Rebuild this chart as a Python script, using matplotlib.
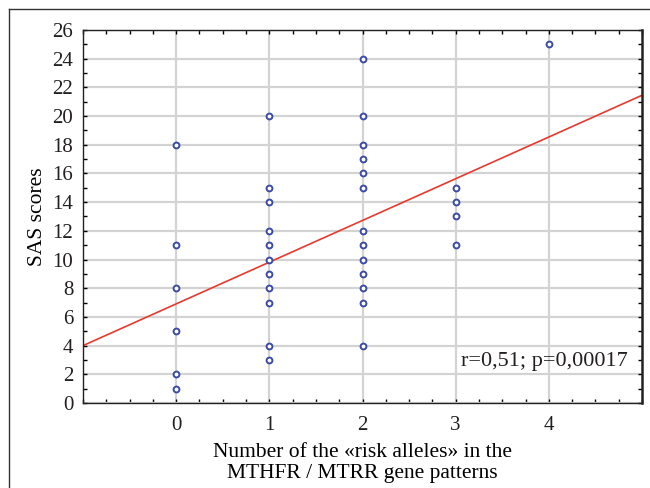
import matplotlib.pyplot as plt
from matplotlib.lines import Line2D
from matplotlib.ticker import MultipleLocator


# Number of risk alleles for each subject, with the SAS score.
RISK_ALLELES = [0] * 6 + [1] * 11 + [2] * 13 + [3] * 4 + [4] * 1
SAS_SCORES = [
    18, 11, 8, 5, 2, 1,
    20, 15, 14, 12, 11, 10, 9, 8, 7, 4, 3,
    24, 20, 18, 17, 16, 15, 12, 11, 10, 9, 8, 7, 4,
    15, 14, 13, 11,
    25,
]

# Regression line as drawn, endpoints at the x limits.
FIT_X = [-1, 5]
FIT_Y = [4.0, 21.45]

STAT_TEXT = "r=0,51; p=0,00017"
X_TICKS = [0, 1, 2, 3, 4]
Y_TICKS = list(range(0, 27, 2))

TEXT_COLOR = "#231f20"
POINT_COLOR = "#3b4ba6"
LINE_COLOR = "#e8392e"
GRID_COLOR = "#d3d3d3"

plt.rcParams["font.family"] = ["Liberation Serif", "DejaVu Serif"]
plt.rcParams["text.color"] = TEXT_COLOR

fig = plt.figure(figsize=(6.5, 4.88), dpi=100)
ax = fig.add_axes([83 / 650, 85 / 488, 559 / 650, 373 / 488])

ax.grid(True, which="major", color=GRID_COLOR, linewidth=1.6, zorder=0)
ax.set_axisbelow(True)

ax.plot(FIT_X, FIT_Y, color=LINE_COLOR, linewidth=1.2, zorder=2)
ax.plot(
    RISK_ALLELES,
    SAS_SCORES,
    linestyle="none",
    marker="o",
    markersize=4.2,
    markerfacecolor="white",
    markeredgecolor=POINT_COLOR,
    markeredgewidth=1.4,
    zorder=3,
)

ax.set_xlim(-1, 5)
ax.set_ylim(0, 26)
ax.set_xticks(X_TICKS)
ax.set_yticks(Y_TICKS)
ax.xaxis.set_minor_locator(MultipleLocator(0.25))
ax.yaxis.set_minor_locator(MultipleLocator(1))

ax.tick_params(
    which="both", direction="in", top=True, right=True,
    length=3, width=1, color="black", labelsize=15, labelcolor=TEXT_COLOR,
)
ax.tick_params(axis="x", pad=9)
ax.tick_params(axis="y", pad=7)

for side, spine in ax.spines.items():
    spine.set_color("#222222")
    spine.set_linewidth(1.0)
ax.spines["right"].set_linewidth(1.8)

ax.set_xlabel(
    "Number of the «risk alleles» in the\nMTHFR / MTRR gene patterns",
    fontsize=15.5, linespacing=1.15, labelpad=6,
)
ax.set_ylabel("SAS scores", fontsize=15.5, labelpad=4)

ax.text(0.975, 0.1, STAT_TEXT, transform=ax.transAxes,
        ha="right", va="baseline", fontsize=16)

# outer frame: left and top edges only
fig.add_artist(Line2D([9 / 650, 9 / 650], [0, 1 - 9 / 488],
                      transform=fig.transFigure, color="#333333", linewidth=1.0))
fig.add_artist(Line2D([9 / 650, 1], [1 - 9 / 488, 1 - 9 / 488],
                      transform=fig.transFigure, color="#333333", linewidth=1.0))

fig.savefig("out.png", dpi=100)
